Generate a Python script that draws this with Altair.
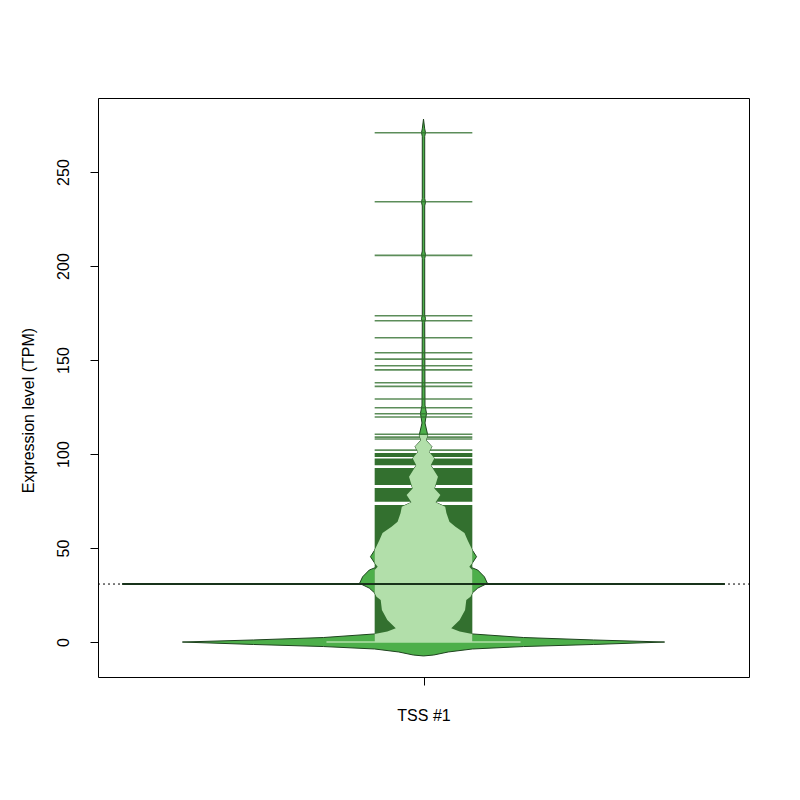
import altair as alt
import pandas as pd

# ---- data ----
category_labels = ["TSS #1"]
category_positions = [1.0]
x_limits = [0.46, 1.54]
y_limits = [-18.6, 289.4]
y_ticks = [0, 50, 100, 150, 200, 250]

# bean (density) outline: value -> half width (x units)
bean_values = [-7.4, -6.9, -5.3, -3.7, -2.4, -1.3, 0.0, 1.1, 2.4, 4.3, 5.6, 7.3,
               11.7, 17.0, 22.3, 24.1, 26.1, 28.7, 31.2, 34.7, 38.3, 40.1, 42.0,
               45.4, 48.9, 54.3, 58.0, 61.3, 64.0, 68.6, 72.0, 74.3, 78.2, 81.7,
               87.9, 94.1, 97.7, 101.2, 103.9, 107.4, 110.1, 116.5, 121.6, 126.0,
               170.0, 172.0, 174.0, 204.0, 206.0, 208.0, 232.0, 234.0, 236.0,
               269.0, 271.0, 273.0, 278.2]
bean_halfwidths = [0.0, 0.017, 0.041, 0.081, 0.166, 0.282, 0.400, 0.282, 0.166, 0.081, 0.060, 0.046,
                   0.060, 0.069, 0.071, 0.078, 0.081, 0.090, 0.106, 0.101, 0.090, 0.076, 0.081,
                   0.088, 0.081, 0.073, 0.068, 0.053, 0.043, 0.038, 0.036, 0.020, 0.028, 0.018,
                   0.024, 0.012, 0.018, 0.009, 0.014, 0.004, 0.007, 0.0025, 0.005, 0.0025,
                   0.002, 0.0033, 0.002, 0.002, 0.0033, 0.002, 0.002, 0.0033, 0.002,
                   0.002, 0.0033, 0.002, 0.0]

# individual bean lines (data points) above the dense region
line_values = [270.9, 234.2, 205.7, 173.6, 170.9, 161.9, 153.9, 150.5, 147.0, 144.8,
               137.9, 136.0, 129.3, 124.6, 121.4, 119.7, 110.5, 109.0, 108.0, 102.1]
# ranges where bean lines are so dense they merge
dense_lo = [0.0, 74.6, 83.5, 94.0, 98.4]
dense_hi = [72.9, 81.9, 92.6, 97.6, 100.6]

zero_value = [0.0]
bean_mean = [30.85]
overall_mean = [30.85]

beanline_half = 0.081
zero_line_half = 0.161
mean_line_half = 0.5
inner_top = 112.0

# colours
FILL = "#4DAF4A"
INNER = "#B2DFAA"
DARK = "#33702F"
OUTLINE = "#1E431E"
MEANCOL = "#18321A"

c = category_positions[0]

bean_df = pd.DataFrame({"v": bean_values, "hw": bean_halfwidths})
bean_df["lo"] = c - bean_df["hw"]
bean_df["hi"] = c + bean_df["hw"]

inner_df = bean_df[(bean_df["v"] >= 0) & (bean_df["v"] <= inner_top)].copy()
inner_df["hw"] = inner_df["hw"].clip(upper=beanline_half)
inner_df["lo"] = c - inner_df["hw"]
inner_df["hi"] = c + inner_df["hw"]

lines_df = pd.DataFrame({"v": line_values, "lo": c - beanline_half, "hi": c + beanline_half})
dense_df = pd.DataFrame({"v": dense_lo, "v2": dense_hi, "lo": c - beanline_half, "hi": c + beanline_half})
zero_df = pd.DataFrame({"v": zero_value, "lo": c - zero_line_half, "hi": c + zero_line_half})
mean_df = pd.DataFrame({"v": bean_mean, "lo": c - mean_line_half, "hi": c + mean_line_half})
overall_df = pd.DataFrame({"v": overall_mean, "lo": [x_limits[0]], "hi": [x_limits[1]]})

label_expr = "'" + category_labels[0] + "'"


def X(field):
    return alt.X(f"{field}:Q",
                 scale=alt.Scale(domain=x_limits, nice=False, zero=False),
                 axis=alt.Axis(values=category_positions, labelExpr=label_expr, title=None,
                               labelPadding=22))


def Y(field="v"):
    return alt.Y(f"{field}:Q",
                 scale=alt.Scale(domain=y_limits, nice=False, zero=False),
                 axis=alt.Axis(values=y_ticks, title="Expression level (TPM)",
                               labelAngle=270, labelAlign="center", labelBaseline="bottom",
                               labelPadding=19, titleAngle=270, titleX=-70, titleY=312,
                               titleAlign="center", titleBaseline="middle"))


overall = alt.Chart(overall_df).mark_rule(color="black", strokeWidth=1, strokeDash=[2, 3]).encode(
    y=Y(), x=X("lo"), x2="hi")

bean = alt.Chart(bean_df).mark_area(orient="horizontal", fill=FILL, stroke=OUTLINE,
                                    strokeWidth=1).encode(y=Y(), x=X("lo"), x2="hi")

dense = alt.Chart(dense_df).mark_rect(color=DARK).encode(y=Y(), y2="v2", x=X("lo"), x2="hi")

lines = alt.Chart(lines_df).mark_rule(color=DARK, strokeWidth=1.6, opacity=0.8).encode(
    y=Y(), x=X("lo"), x2="hi")

inner = alt.Chart(inner_df).mark_area(orient="horizontal", fill=INNER, strokeWidth=0).encode(
    y=Y(), x=X("lo"), x2="hi")

zero = alt.Chart(zero_df).mark_rule(color=INNER, strokeWidth=1.5).encode(y=Y(), x=X("lo"), x2="hi")

mean = alt.Chart(mean_df).mark_rule(color=MEANCOL, strokeWidth=2).encode(y=Y(), x=X("lo"), x2="hi")

chart = alt.layer(overall, bean, dense, lines, inner, zero, mean).properties(
    width=651, height=579, autosize="none",
    padding={"left": 90, "top": 90, "right": 43, "bottom": 115},
).configure_view(stroke="black", strokeWidth=1).configure_axis(
    grid=False, domain=False, tickColor="black", tickSize=8, labelColor="black",
    titleColor="black", labelFont="Liberation Sans", titleFont="Liberation Sans",
    labelFontSize=16, titleFontSize=16, titleFontWeight="normal")

chart.save("out.html", embed_options={"renderer": "svg", "actions": False})
